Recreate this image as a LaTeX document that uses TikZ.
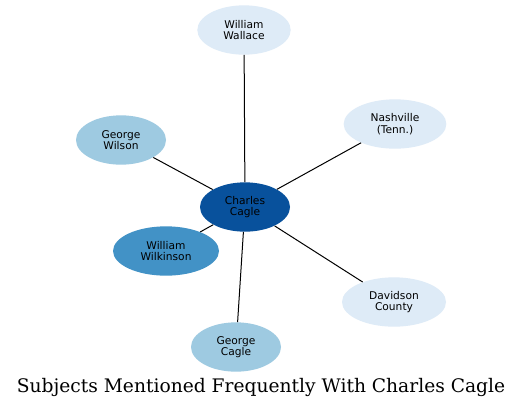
\documentclass[tikz,border=0pt]{standalone}
\usepackage{fontspec}
\usetikzlibrary{shapes.geometric}
\newfontfamily\nodefont{DejaVu Sans}
\newfontfamily\titlefont{DejaVu Serif}
\definecolor{bA}{HTML}{DEEBF7}
\definecolor{bB}{HTML}{9ECAE1}
\definecolor{bC}{HTML}{4292C6}
\definecolor{bD}{HTML}{08519C}
\begin{document}
\begin{tikzpicture}[x=0.75pt,y=-0.75pt,
  ent/.style={ellipse, inner sep=0pt, minimum height=37pt, align=center,
    font=\nodefont\fontsize{8}{8.5}\selectfont, text=black},
  link/.style={draw=black, line width=0.75pt}]
\useasboundingbox (0,0) rectangle (524,408);
\fill[white] (0,0) rectangle (524,408);
\node[ent, fill=bA, minimum width=70pt] (ww) at (244,30) {William\\Wallace};
\node[ent, fill=bA, minimum width=77pt] (na) at (395,124) {Nashville\\(Tenn.)};
\node[ent, fill=bB, minimum width=67.5pt] (gw) at (121,140) {George\\Wilson};
\node[ent, fill=bC, minimum width=79.5pt] (wk) at (166,251) {William\\Wilkinson};
\node[ent, fill=bA, minimum width=78pt] (dc) at (394,302) {Davidson\\County};
\node[ent, fill=bB, minimum width=67.5pt] (gc) at (236,347) {George\\Cagle};
\node[ent, fill=bD, minimum width=67.5pt] (cc) at (245,207) {Charles\\Cagle};
\draw[link] (cc) -- (ww);
\draw[link] (cc) -- (na);
\draw[link] (cc) -- (gw);
\draw[link] (cc) -- (wk);
\draw[link] (cc) -- (dc);
\draw[link] (cc) -- (gc);
\node[anchor=base, font=\titlefont\fontsize{14}{16}\selectfont, inner sep=0pt] (title) at (261,392) {Subjects Mentioned Frequently With Charles Cagle};
\end{tikzpicture}
\end{document}
